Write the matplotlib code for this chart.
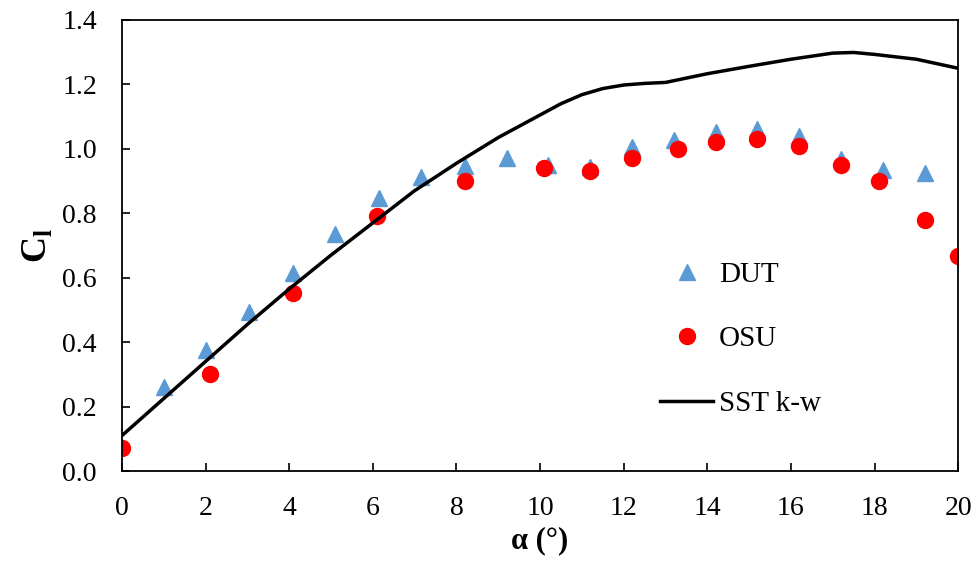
import numpy as np
import matplotlib
matplotlib.use("Agg")
import matplotlib.pyplot as plt

plt.rcParams['font.family'] = ['Liberation Serif', 'DejaVu Serif']
plt.rcParams['mathtext.fontset'] = 'custom'
plt.rcParams['mathtext.rm'] = 'Liberation Serif'
plt.rcParams['mathtext.bf'] = 'Liberation Serif:bold'

# DUT experiment
dut_alpha = [1.0, 2.0, 3.05, 4.1, 5.1, 6.15, 7.15, 8.2, 9.2, 10.2, 11.2, 12.2, 13.2, 14.2, 15.2, 16.2, 17.2, 18.2, 19.2]
dut_cl = [0.26, 0.376, 0.494, 0.615, 0.735, 0.848, 0.913, 0.947, 0.972, 0.95, 0.945, 1.006, 1.028, 1.053, 1.06, 1.04, 0.968, 0.935, 0.926]

# OSU experiment
osu_alpha = [0.0, 2.1, 4.1, 6.1, 8.2, 10.1, 11.2, 12.2, 13.3, 14.2, 15.2, 16.2, 17.2, 18.1, 19.2, 20.0]
osu_cl = [0.071, 0.30, 0.552, 0.79, 0.90, 0.94, 0.93, 0.971, 1.0, 1.02, 1.03, 1.01, 0.95, 0.90, 0.78, 0.668]

# SST k-w simulation
sst_alpha = [0, 1, 2, 3, 4, 5, 6, 7, 8, 9, 10, 10.5, 11, 11.5, 12, 12.5, 13, 14, 15, 16, 17, 17.5, 18, 19, 20]
sst_cl = [0.11, 0.225, 0.34, 0.455, 0.565, 0.67, 0.77, 0.87, 0.955, 1.035, 1.105, 1.14, 1.168, 1.187, 1.198, 1.203,
          1.206, 1.233, 1.256, 1.278, 1.297, 1.299, 1.293, 1.278, 1.25]

fig = plt.figure(figsize=(9.78, 5.71), dpi=100)
ax = fig.add_axes([0.1247, 0.1751, 0.855, 0.790])

ax.plot(dut_alpha, dut_cl, linestyle='none', marker='^', markersize=11, color='#5B9BD5', label='DUT')
ax.plot(osu_alpha, osu_cl, linestyle='none', marker='o', markersize=11.5, color='#FF0000', label='OSU')
ax.plot(sst_alpha, sst_cl, color='black', linewidth=2.5, label='SST k-w')

ax.set_xlim(0, 20)
ax.set_ylim(0, 1.4)
ax.set_xticks(np.arange(0, 21, 2))
ax.set_yticks(np.arange(0, 1.41, 0.2))
ax.set_yticklabels(["%.1f" % v for v in np.arange(0, 1.41, 0.2)])

ax.tick_params(axis='x', direction='in', length=6, width=1.2, pad=18, labelsize=20)
ax.tick_params(axis='y', direction='in', length=6, width=1.2, pad=18, labelsize=20)
for s in ax.spines.values():
    s.set_linewidth(1.3)

ax.set_xlabel('α (°)', fontsize=22, fontweight='bold', labelpad=4)
ax.set_ylabel(r'$\mathbf{C}_\mathbf{l}$', fontsize=26, labelpad=6)

ax.legend(loc='upper left', bbox_to_anchor=(0.63, 0.49), frameon=False, fontsize=21,
          handlelength=1.8, handletextpad=0.2, labelspacing=1.3, borderaxespad=0)

fig.savefig('out.png', dpi=100)
